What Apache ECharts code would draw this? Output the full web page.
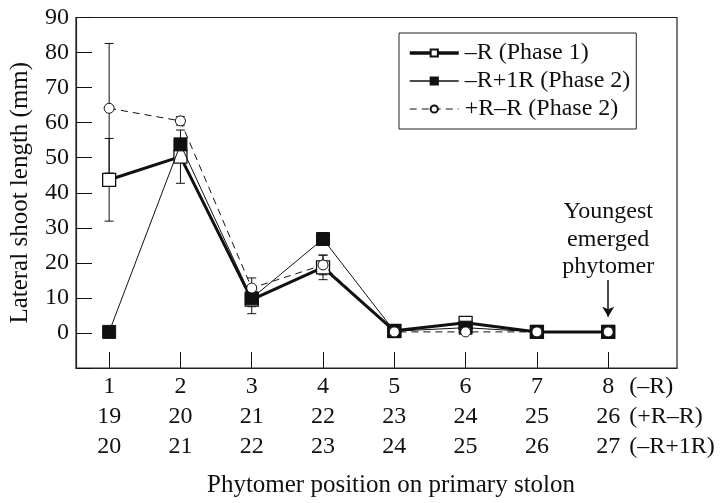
<!DOCTYPE html>
<html>
<head>
<meta charset="utf-8">
<script src="https://cdn.jsdelivr.net/npm/echarts@6/dist/echarts.min.js"></script>
<style>html,body{margin:0;padding:0;background:#fff}#c{width:720px;height:503px}</style>
</head>
<body>
<div id="c"></div>
<script>
// ---- data ----
const positions = [1, 2, 3, 4, 5, 6, 7, 8];
const rowMinusR = ['1', '2', '3', '4', '5', '6', '7', '8'];
const rowPlusRMinusR = ['19', '20', '21', '22', '23', '24', '25', '26'];
const rowMinusRPlus1R = ['20', '21', '22', '23', '24', '25', '26', '27'];
const rowSuffixes = ['(–R)', '(+R–R)', '(–R+1R)'];
const seriesNames = ['–R (Phase 1)', '–R+1R (Phase 2)', '+R–R (Phase 2)'];

const minusR = [43.7, 50.3, 9.5, 18.7, 0.6, 2.9, 0.3, 0.3];
const minusRErr = [11.8, 7.6, 4.0, 3.5, 0, 0, 0, 0];
const minusRPlus1R = [0.3, 53.8, 9.9, 26.8, 0.5, 1.5, 0.3, 0.3];
const minusRPlus1RErr = [0, 0, 2.4, 0, 0, 0, 0, 0];
const plusRMinusR = [64.1, 60.5, 12.8, 19.4, 0.3, 0.3, 0.3, 0.3];
const plusRMinusRErr = [18.5, 1.2, 2.9, 2.8, 0, 0, 0, 0];

const annotationText = 'Youngest\nemerged\nphytomer';
const arrowFrom = 15.1, arrowTo = 4.6;

// ---- helpers ----
const FONT = 'Liberation Serif';
const INK = '#111';
function pairs(vals) { return positions.map((x, i) => [x, vals[i]]); }
function errData(vals, errs) {
  const out = [];
  positions.forEach((x, i) => { if (errs[i] > 0) out.push([x, vals[i] - errs[i], vals[i] + errs[i]]); });
  return out;
}
function errSeries(vals, errs) {
  return {
    type: 'custom', z: 1, silent: true,
    data: errData(vals, errs),
    renderItem: function (params, api) {
      const x = api.value(0);
      const lo = api.coord([x, api.value(1)]);
      const hi = api.coord([x, api.value(2)]);
      const w = 4.5;
      const st = { stroke: INK, lineWidth: 1 };
      return { type: 'group', children: [
        { type: 'line', shape: { x1: lo[0], y1: lo[1], x2: hi[0], y2: hi[1] }, style: st },
        { type: 'line', shape: { x1: lo[0] - w, y1: lo[1], x2: lo[0] + w, y2: lo[1] }, style: st },
        { type: 'line', shape: { x1: hi[0] - w, y1: hi[1], x2: hi[0] + w, y2: hi[1] }, style: st }
      ]};
    }
  };
}

const chart = echarts.init(document.getElementById('c'), null, { renderer: 'canvas' });
const option = {
  animation: false,
  backgroundColor: '#fff',
  textStyle: { fontFamily: FONT, color: INK },
  grid: { left: 72, right: 43, top: 17.5, bottom: 135, show: true, borderColor: '#222', borderWidth: 1.2, backgroundColor: 'transparent' },
  legend: {
    data: [
      { name: seriesNames[0], lineStyle: { width: 3.5 } },
      { name: seriesNames[1], lineStyle: { width: 1.5 } },
      { name: seriesNames[2], lineStyle: { width: 1 } }
    ],
    orient: 'vertical',
    left: 399, top: 33,
    itemWidth: 49, itemHeight: 9, itemGap: 4,
    padding: [8, 6, 8, 9],
    borderColor: '#222', borderWidth: 1,
    textStyle: { fontFamily: FONT, fontSize: 24, color: INK, lineHeight: 24, padding: [0, 0, 0, 1] },
    inactiveColor: INK
  },
  xAxis: {
    type: 'value', min: 0.535, max: 8.965,
    axisLine: { show: true, onZero: false, lineStyle: { color: '#222', width: 1.2 } },
    axisTick: { show: true, inside: true, length: 16, customValues: positions, lineStyle: { color: INK, width: 1 } },
    splitLine: { show: false },
    axisLabel: {
      customValues: positions, margin: 4,
      fontFamily: FONT, fontSize: 24, color: INK, lineHeight: 30,
      formatter: function (v) {
        const i = positions.indexOf(v);
        return i < 0 ? '' : rowMinusR[i] + '\n' + rowPlusRMinusR[i] + '\n' + rowMinusRPlus1R[i];
      }
    }
  },
  yAxis: {
    type: 'value', min: -10, max: 90, interval: 10,
    name: 'Lateral shoot length (mm)', nameLocation: 'middle', nameGap: 43,
    nameTextStyle: { fontFamily: FONT, fontSize: 25, color: INK },
    axisLine: { show: true, onZero: false, lineStyle: { color: '#222', width: 1.2 } },
    axisTick: { show: true, inside: true, length: 16, lineStyle: { color: INK, width: 1 } },
    splitLine: { show: false },
    axisLabel: { margin: 7, fontFamily: FONT, fontSize: 24, color: INK, formatter: v => v < 0 ? '' : String(v) }
  },
  series: [
    errSeries(minusR, minusRErr),
    errSeries(minusRPlus1R, minusRPlus1RErr),
    errSeries(plusRMinusR, plusRMinusRErr),
    {
      name: seriesNames[0], type: 'line', z: 2, data: pairs(minusR),
      symbol: 'rect', symbolSize: 13,
      itemStyle: { color: '#fff', borderColor: INK, borderWidth: 1.3 },
      lineStyle: { color: INK, width: 3 },
      markLine: {
        silent: true, symbol: ['none', 'arrow'], symbolSize: [9, 10],
        label: { show: false },
        lineStyle: { color: INK, width: 1.5, type: 'solid' },
        data: [[{ coord: [8, arrowFrom] }, { coord: [8, arrowTo] }]]
      }
    },
    {
      name: seriesNames[1], type: 'line', z: 3, data: pairs(minusRPlus1R),
      symbol: 'rect', symbolSize: 13,
      itemStyle: { color: INK, borderColor: INK, borderWidth: 1 },
      lineStyle: { color: INK, width: 1 }
    },
    {
      name: seriesNames[2], type: 'line', z: 4, data: pairs(plusRMinusR),
      symbol: 'circle', symbolSize: 10,
      itemStyle: { color: '#fff', borderColor: INK, borderWidth: 1 },
      lineStyle: { color: INK, width: 1, type: [7, 5] }
    }
  ]
};
chart.setOption(option);

// text annotations anchored to the axis through the chart's own scale
const x8 = chart.convertToPixel({ xAxisIndex: 0 }, positions[positions.length - 1]);
const rowY = [372, 402, 432];
const graphics = rowSuffixes.map((s, i) => ({
  type: 'text', left: x8 + 21, top: rowY[i],
  style: { text: s, font: '24px "' + FONT + '"', fill: INK, lineHeight: 30, verticalAlign: 'top' }
}));
graphics.push({
  type: 'text', x: x8, y: 198,
  style: { text: annotationText, font: '24px "' + FONT + '"', fill: INK, align: 'center', verticalAlign: 'top', lineHeight: 27.5 }
});
graphics.push({
  type: 'text', x: 391, y: 485,
  style: { text: 'Phytomer position on primary stolon', font: '25px "' + FONT + '"', fill: INK, align: 'center', verticalAlign: 'middle' }
});
chart.setOption({ graphic: graphics });
</script>
</body>
</html>
